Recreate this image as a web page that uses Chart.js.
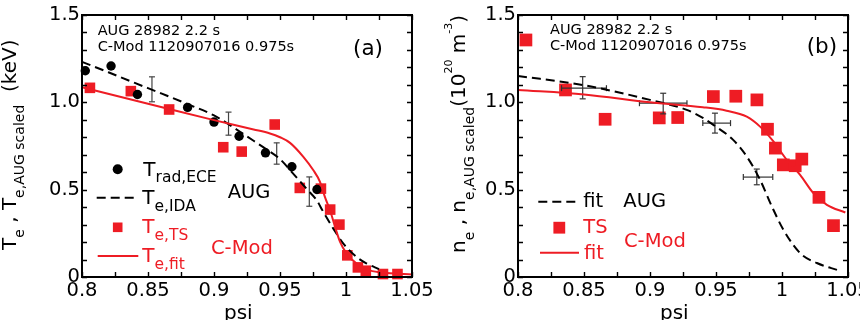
<!DOCTYPE html>
<html>
<head>
<meta charset="utf-8">
<script src="https://cdn.jsdelivr.net/npm/chart.js@4.4.1/dist/chart.umd.min.js"></script>
<style>
  body { margin: 0; width: 860px; height: 320px; overflow: hidden; background: #fff; position: relative; }
  canvas { position: absolute; top: 0; }
  #chartA { left: 0; }
  #chartB { left: 430px; }
</style>
</head>
<body>
<canvas id="chartA" width="450" height="320"></canvas>
<canvas id="chartB" width="470" height="320"></canvas>
<script>
// ---- panel (a): Te profiles
const eceX = [0.8025, 0.822, 0.842, 0.880, 0.900, 0.919, 0.939, 0.959, 0.978];
const eceY = [1.181, 1.208, 1.045, 0.971, 0.887, 0.806, 0.711, 0.631, 0.501];
const idaX = [0.80, 0.82, 0.84, 0.86, 0.88, 0.90, 0.91, 0.92, 0.93, 0.94, 0.95, 0.9588, 0.97, 0.9777, 0.9828, 0.9904, 0.998, 1.008, 1.0157, 1.025];
const idaY = [1.232, 1.172, 1.111, 1.051, 0.99, 0.925, 0.88, 0.83, 0.78, 0.73, 0.675, 0.602, 0.506, 0.44, 0.373, 0.277, 0.191, 0.115, 0.077, 0.045];
const tsTeX = [0.806, 0.837, 0.866, 0.907, 0.921, 0.946, 0.965, 0.981, 0.988, 0.995, 1.001, 1.009, 1.015, 1.028, 1.039];
const tsTeY = [1.083, 1.064, 0.959, 0.743, 0.718, 0.873, 0.510, 0.506, 0.386, 0.300, 0.124, 0.055, 0.036, 0.017, 0.017];
const fitTeX = [0.80, 0.85, 0.90, 0.93, 0.9424, 0.95, 0.9576, 0.9677, 0.9753, 0.9803, 0.984, 0.9879, 0.9917, 0.9955, 1.0005, 1.008, 1.018, 1.031, 1.05];
const fitTeY = [1.086, 0.992, 0.898, 0.845, 0.822, 0.80, 0.768, 0.688, 0.611, 0.545, 0.459, 0.382, 0.287, 0.201, 0.134, 0.077, 0.038, 0.023, 0.015];
const errTeX = [0.853, 0.911, 0.9475, 0.9722];
const errTeLo = [1.003, 0.812, 0.646, 0.405];
const errTeHi = [1.146, 0.944, 0.768, 0.573];

// ---- panel (b): ne profiles
const tsNeX = [0.806, 0.836, 0.866, 0.907, 0.921, 0.948, 0.965, 0.981, 0.989, 0.995, 1.001, 1.010, 1.015, 1.028, 1.039];
const tsNeY = [1.357, 1.071, 0.903, 0.911, 0.913, 1.033, 1.035, 1.014, 0.846, 0.738, 0.642, 0.637, 0.675, 0.456, 0.294];
const fitAugX = [0.80, 0.85, 0.90, 0.9278, 0.9404, 0.948, 0.963, 0.9733, 0.9834, 0.9923, 1.0011, 1.0137, 1.0264, 1.0428];
const fitAugY = [1.151, 1.098, 1.014, 0.957, 0.909, 0.871, 0.785, 0.690, 0.556, 0.404, 0.270, 0.137, 0.080, 0.038];
const fitNeX = [0.80, 0.85, 0.90, 0.94, 0.958, 0.9733, 0.9834, 0.9935, 1.0036, 1.0137, 1.0238, 1.034, 1.048];
const fitNeY = [1.071, 1.045, 1.0, 0.972, 0.952, 0.918, 0.861, 0.776, 0.671, 0.585, 0.48, 0.413, 0.369];
const errNeX = [0.849, 0.910, 0.9492, 0.9809];
const errNeY = [1.081, 0.995, 0.881, 0.572];
const errNeYLo = [1.020, 0.934, 0.824, 0.528];
const errNeYHi = [1.147, 1.052, 0.938, 0.618];
const errNeXLo = [0.833, 0.892, 0.940, 0.9707];
const errNeXHi = [0.867, 0.928, 0.961, 0.993];

const RED = '#ee1c24';
const FONT = 'DejaVu Sans';
Chart.defaults.font.family = FONT;
Chart.defaults.color = '#000';

function pts(xs, ys) { return xs.map((x, i) => ({ x: x, y: ys[i] })); }

// draws text made of pieces (sub/superscripts), optionally rotated
function drawRich(ctx, x, y, parts, color, rot) {
  ctx.save();
  ctx.translate(x, y);
  if (rot) ctx.rotate(rot);
  ctx.textBaseline = 'alphabetic';
  ctx.textAlign = 'left';
  let cx = 0;
  parts.forEach(p => {
    ctx.font = p[1] + 'px "' + FONT + '"';
    ctx.fillStyle = color;
    ctx.fillText(p[0], cx, p[2] || 0);
    cx += ctx.measureText(p[0]).width;
  });
  ctx.restore();
}

// frame with inward ticks + texts + hand placed legend
const overlay = {
  id: 'overlay',
  afterDraw(chart, args, opts) {
    const ctx = chart.ctx, a = chart.chartArea;
    const xs = chart.scales.x, ys = chart.scales.y;
    ctx.save();
    ctx.strokeStyle = '#000';
    ctx.lineWidth = 1.4;
    ctx.beginPath();
    for (let v = 0.8; v <= 1.0501; v += 0.025) {
      const px = Math.round(xs.getPixelForValue(v)) + 0.5;
      ctx.moveTo(px, a.bottom); ctx.lineTo(px, a.bottom - 5);
      ctx.moveTo(px, a.top); ctx.lineTo(px, a.top + 5);
    }
    for (let v = 0; v <= 1.5001; v += 0.1) {
      const py = Math.round(ys.getPixelForValue(v)) + 0.5;
      ctx.moveTo(a.left, py); ctx.lineTo(a.left + 5, py);
      ctx.moveTo(a.right, py); ctx.lineTo(a.right - 5, py);
    }
    ctx.stroke();
    ctx.lineWidth = 2;
    ctx.strokeRect(a.left, a.top, a.right - a.left, a.bottom - a.top);

    // legend symbols
    (opts.symbols || []).forEach(s => {
      ctx.fillStyle = s.color; ctx.strokeStyle = s.color;
      if (s.kind === 'circle') {
        ctx.beginPath(); ctx.arc(s.x, s.y, s.r, 0, Math.PI * 2); ctx.fill();
      } else if (s.kind === 'square') {
        ctx.fillRect(s.x - s.r, s.y - s.r, 2 * s.r, 2 * s.r);
      } else {
        ctx.lineWidth = 2;
        ctx.setLineDash(s.kind === 'dash' ? [9, 5] : []);
        ctx.beginPath(); ctx.moveTo(s.x, s.y); ctx.lineTo(s.x2, s.y); ctx.stroke();
        ctx.setLineDash([]);
      }
    });
    (opts.texts || []).forEach(t => drawRich(ctx, t.x, t.y, t.parts, t.color || '#000', t.rot));
    ctx.restore();
  }
};

function errorSets(bars, color, rot, w) {
  return bars.map(b => ({
    type: 'scatter', data: b, showLine: true, borderColor: color, borderWidth: w,
    pointStyle: 'line', pointRadius: 3, pointRotation: rot, pointBorderColor: color,
    pointBorderWidth: w, pointHoverRadius: 0, clip: false
  }));
}

function baseOptions(yWidth, rightPad, overlayOpts) {
  return {
    responsive: false,
    animation: false,
    events: [],
    layout: { padding: { top: 15, right: rightPad, left: 0, bottom: 0 } },
    plugins: { legend: { display: false }, tooltip: { enabled: false }, overlay: overlayOpts },
    scales: {
      x: {
        type: 'linear', min: 0.8, max: 1.05,
        grid: { display: false, drawTicks: false }, border: { display: false },
        ticks: { stepSize: 0.05, autoSkip: false, maxRotation: 0, padding: 2,
          font: { size: 19.5 }, color: '#000',
          callback: v => String(parseFloat(v.toFixed(3))) },
        afterFit: s => { s.height = 43; }
      },
      y: {
        min: 0, max: 1.5,
        grid: { display: false, drawTicks: false }, border: { display: false },
        ticks: { stepSize: 0.5, padding: 2, font: { size: 19.5 }, color: '#000',
          callback: v => (v === 0 ? '0' : v.toFixed(1)) },
        afterFit: s => { s.width = yWidth; }
      }
    }
  };
}

// ---------- chart (a)
const teBars = errTeX.map((x, i) => [{ x: x, y: errTeLo[i] }, { x: x, y: errTeHi[i] }]);
new Chart(document.getElementById('chartA'), {
  type: 'scatter',
  data: {
    datasets: [
      { data: pts(fitTeX, fitTeY), showLine: true, borderColor: RED, borderWidth: 2,
        pointRadius: 0, cubicInterpolationMode: 'monotone', clip: false },
      { data: pts(idaX, idaY), showLine: true, borderColor: '#000', borderWidth: 2,
        borderDash: [9, 5], pointRadius: 0, cubicInterpolationMode: 'monotone', clip: false },
      ...errorSets(teBars, '#444', 0, 1.2),
      { data: pts(eceX, eceY), pointStyle: 'circle', pointRadius: 4.7,
        backgroundColor: '#000', borderWidth: 0, clip: false },
      { data: pts(tsTeX, tsTeY), pointStyle: 'rect', pointRadius: 7.5,
        backgroundColor: RED, borderWidth: 0, clip: false }
    ]
  },
  options: baseOptions(82, 38, {
    symbols: [
      { kind: 'circle', x: 117.7, y: 169.3, r: 5, color: '#000' },
      { kind: 'dash', x: 96.7, x2: 138.3, y: 197.7, color: '#000' },
      { kind: 'square', x: 117.7, y: 227.3, r: 4.8, color: RED },
      { kind: 'line', x: 97.7, x2: 138.3, y: 256, color: RED }
    ],
    texts: [
      { x: 97.7, y: 35.3, parts: [['AUG 28982 2.2 s', 14.5]] },
      { x: 97.7, y: 51, parts: [['C-Mod 1120907016 0.975s', 14.5]] },
      { x: 353, y: 55, parts: [['(a)', 21.5]] },
      { x: 143.3, y: 176, parts: [['T', 20], ['rad,ECE', 15.5, 6.3]] },
      { x: 142.3, y: 204, parts: [['T', 20], ['e,IDA', 15.5, 7]] },
      { x: 142.3, y: 232.7, color: RED, parts: [['T', 20], ['e,TS', 15.5, 7]] },
      { x: 142.3, y: 261.7, color: RED, parts: [['T', 20], ['e,fit', 15.5, 7]] },
      { x: 227.7, y: 197.7, parts: [['AUG', 19.5]] },
      { x: 211, y: 254.3, color: RED, parts: [['C-Mod', 19.5]] },
      { x: 240 - 16, y: 318.5, parts: [['psi', 20]] },
      { x: 16, y: 250, rot: -Math.PI / 2,
        parts: [['T', 20], ['e', 14, 8], [' , ', 20], ['T', 20], ['e,AUG scaled', 14, 8], ['  (keV)', 20]] }
    ]
  }),
  plugins: [overlay]
});

// ---------- chart (b)
const neVBars = errNeX.map((x, i) => [{ x: x, y: errNeYLo[i] }, { x: x, y: errNeYHi[i] }]);
const neHBars = errNeY.map((y, i) => [{ x: errNeXLo[i], y: y }, { x: errNeXHi[i], y: y }]);
new Chart(document.getElementById('chartB'), {
  type: 'scatter',
  data: {
    datasets: [
      { data: pts(fitNeX, fitNeY), showLine: true, borderColor: RED, borderWidth: 2,
        pointRadius: 0, cubicInterpolationMode: 'monotone', clip: false },
      { data: pts(fitAugX, fitAugY), showLine: true, borderColor: '#000', borderWidth: 2,
        borderDash: [9, 5], pointRadius: 0, cubicInterpolationMode: 'monotone', clip: false },
      ...errorSets(neVBars, '#333', 0, 1.2),
      ...errorSets(neHBars, '#333', 90, 1.2),
      { data: pts(tsNeX, tsNeY), pointStyle: 'rect', pointRadius: 9,
        backgroundColor: RED, borderWidth: 0, clip: false }
    ]
  },
  options: baseOptions(88, 52, {
    symbols: [
      { kind: 'dash', x: 108.3, x2: 148.3, y: 201.7, color: '#000' },
      { kind: 'square', x: 129.3, y: 227.7, r: 5.9, color: RED },
      { kind: 'line', x: 110, x2: 149, y: 252.7, color: RED }
    ],
    texts: [
      { x: 120, y: 34, parts: [['AUG 28982 2.2 s', 14.5]] },
      { x: 120, y: 50, parts: [['C-Mod 1120907016 0.975s', 14.5]] },
      { x: 376.7, y: 53, parts: [['(b)', 21.5]] },
      { x: 153.3, y: 207.3, parts: [['fit', 19.5]] },
      { x: 193.3, y: 207.3, parts: [['AUG', 19.5]] },
      { x: 153.3, y: 233.3, color: RED, parts: [['TS', 19.5]] },
      { x: 194, y: 246.7, color: RED, parts: [['C-Mod', 19.5]] },
      { x: 154, y: 259.3, color: RED, parts: [['fit', 19.5]] },
      { x: 246 - 16, y: 318.5, parts: [['psi', 20]] },
      { x: 35, y: 253, rot: -Math.PI / 2,
        parts: [['n', 20], ['e', 14, 9], [' , ', 20], ['n', 20], ['e,AUG scaled', 14, 9],
                ['(10', 20], ['20', 11, -13], [' m', 20], ['-3', 11, -13], [')', 20]] }
    ]
  }),
  plugins: [overlay]
});
</script>
</body>
</html>
